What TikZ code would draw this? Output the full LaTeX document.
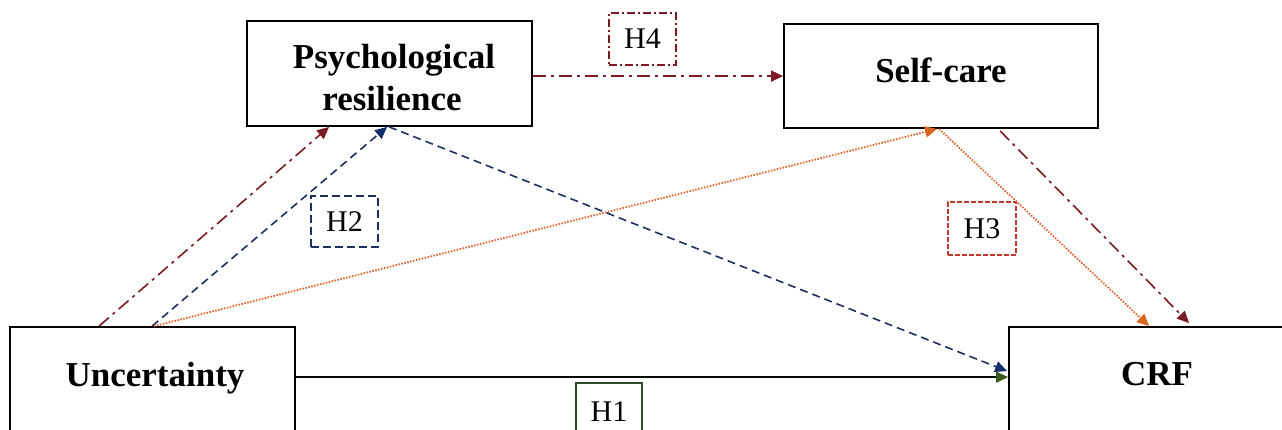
\documentclass[tikz,border=0pt]{standalone}
\usepackage{fontspec}
\setmainfont{Liberation Serif}
\usetikzlibrary{arrows.meta,calc}
\definecolor{maroon}{HTML}{7B1C24}
\definecolor{navyc}{HTML}{1F3060}
\definecolor{navytip}{HTML}{12306E}
\definecolor{orangec}{HTML}{E0602A}
\definecolor{orangetip}{HTML}{D9661E}
\definecolor{hthree}{HTML}{C0392B}
\definecolor{hone}{HTML}{2E4A2A}
\definecolor{honetip}{HTML}{3A5A1E}
\tikzset{
  varbox/.style={draw=black, line width=1.8pt, rectangle, inner sep=0pt},
  varlbl/.style={font=\fontsize{35}{42}\selectfont\bfseries, inner sep=0pt, anchor=base},
  hbox/.style={rectangle, line width=1.8pt, inner sep=0pt, minimum width=67pt, font=\fontsize{30}{36}\selectfont},
  redline/.style={draw=maroon, line width=1.6pt, dash pattern=on 13pt off 5pt on 3pt off 5pt, -{Triangle[length=12pt,width=11pt,color=maroon,fill=maroon]}},
  navyline/.style={draw=navyc, line width=1.6pt, dash pattern=on 8pt off 5pt, -{Triangle[length=12pt,width=11pt,color=navytip,fill=navytip]}},
  orangeline/.style={draw=orangec, line width=1.8pt, dash pattern=on 1.5pt off 1.5pt, -{Triangle[length=12pt,width=11pt,color=orangetip,fill=orangetip]}},
  greenline/.style={draw=black!85!hone, line width=1.4pt, -{Triangle[length=12pt,width=11pt,color=honetip,fill=honetip]}},
}
\begin{document}
\begin{tikzpicture}[x=1pt,y=-1pt]
\useasboundingbox (0,0) rectangle (1282,429);
\clip (0,0) rectangle (1282,429);
\fill[white] (0,0) rectangle (1282,429);
% boxes
\node[varbox, minimum width=285pt, minimum height=130pt] (unc) at (152.5,392) {};
\node[varbox, minimum width=330pt, minimum height=130pt] (crf) at (1174,392) {};
\node[varbox, minimum width=285pt, minimum height=105pt] (psy) at (389.5,73.5) {};
\node[varbox, minimum width=314pt, minimum height=104pt] (self) at (941,76) {};
% labels
\node[varlbl] (unct) at (155,386) {Uncertainty};
\node[varlbl] (crft) at (1157,385) {CRF};
\node[varlbl] (psyt1) at (394,68) {Psychological};
\node[varlbl] (psyt2) at (392,110) {resilience};
\node[varlbl] (selft) at (941,82) {Self-care};
% hypothesis boxes
\node[hbox, draw=maroon, dash pattern=on 8pt off 3pt on 2pt off 3pt, minimum height=52pt] (h4) at (642.5,39) {H4};
\node[hbox, draw=navyc, dash pattern=on 8pt off 4pt, minimum height=51pt] (h2) at (344.5,221.5) {H2};
\node[hbox, draw=hthree, dash pattern=on 5pt off 2pt, minimum width=68pt, minimum height=53pt] (h3) at (982,228.5) {H3};
\node[hbox, draw=hone, minimum width=66pt, minimum height=58pt, line width=1.5pt] (h1) at (609,412) {};
\node[font=\fontsize{30}{36}\selectfont, inner sep=0pt] (h1t) at (609,412) {H1};
% connectors
\draw[greenline] ($(unc.north east)+(0,51)$) -- ($(crf.north west)+(0,51)$);
\draw[redline] ($(unc.north west)+(90,0)$) -- ($(psy.south west)+(83,0)$);
\draw[navyline] ($(unc.north west)+(143,0)$) -- ($(psy.south west)+(141,0)$);
\draw[orangeline] ($(unc.north west)+(145,0)$) -- ($(self.south west)+(154,0)$);
\draw[navyline] ($(psy.south west)+(143,0)$) -- ($(crf.north west)+(-1,45)$);
\draw[orangeline] ($(self.south west)+(156,0)$) -- ($(crf.north west)+(141,0)$);
\draw[redline] ($(self.south west)+(217,2)$) -- ($(crf.north west)+(181,-3)$);
\draw[redline] ($(psy.north east)+(0,56)$) -- ($(self.north west)+(0,53)$);
\end{tikzpicture}
\end{document}
